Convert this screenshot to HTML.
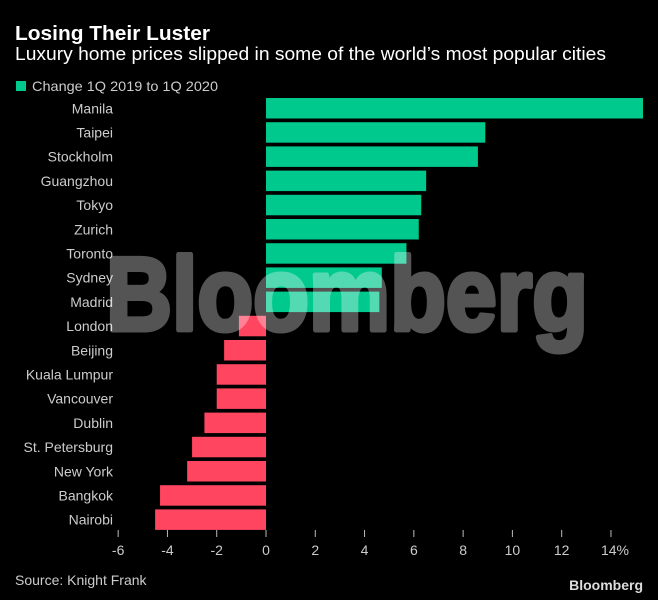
<!DOCTYPE html>
<html><head><meta charset="utf-8"><style>
body{margin:0;background:#000;}
svg{display:block;font-family:"Liberation Sans",sans-serif;}
</style></head><body>
<svg width="658" height="600" viewBox="0 0 658 600">
<rect width="658" height="600" fill="#000"/>
<text x="15" y="40" fill="#fff" font-size="20" font-weight="bold" textLength="195" lengthAdjust="spacingAndGlyphs">Losing Their Luster</text>
<text x="15" y="60" fill="#fff" font-size="18" textLength="591" lengthAdjust="spacingAndGlyphs">Luxury home prices slipped in some of the world’s most popular cities</text>
<rect x="16" y="81" width="10" height="10" fill="#00c98d"/>
<text x="32" y="91" fill="#ccc" font-size="14" textLength="186" lengthAdjust="spacingAndGlyphs">Change 1Q 2019 to 1Q 2020</text>
<g id="labels"></g>
<g id="bars"></g>
<g id="axis"></g>
<g opacity="0.33">
<text x="106" y="330" fill="#fff" stroke="#fff" stroke-width="5" stroke-linejoin="round" font-size="104" font-weight="bold" textLength="482" lengthAdjust="spacingAndGlyphs">Bloomberg</text>
</g>
<text x="15" y="585" fill="#ccc" font-size="14">Source: Knight Frank</text>
<text x="643" y="590" fill="#ddd" font-size="14" font-weight="bold" text-anchor="end">Bloomberg</text>
</svg>
<script>
const cities=["Manila","Taipei","Stockholm","Guangzhou","Tokyo","Zurich","Toronto","Sydney","Madrid","London","Beijing","Kuala Lumpur","Vancouver","Dublin","St. Petersburg","New York","Bangkok","Nairobi"];
const values=[15.3,8.9,8.6,6.5,6.3,6.2,5.7,4.7,4.6,-1.1,-1.7,-2.0,-2.0,-2.5,-3.0,-3.2,-4.3,-4.5];
const ticks=[-6,-4,-2,0,2,4,6,8,10,12,14];
const tickLabels=["-6","-4","-2","0","2","4","6","8","10","12","14%"];
const NS="http://www.w3.org/2000/svg";
function xs(v){return 266+v*24.64;}
function ys(i){return 98+i*24.2;}
const bh=20.5;
const gb=document.getElementById('bars'),gl=document.getElementById('labels'),ga=document.getElementById('axis');
cities.forEach((c,i)=>{
  const v=values[i];
  const r=document.createElementNS(NS,'rect');
  r.setAttribute('x',Math.min(xs(0),xs(v)));
  r.setAttribute('y',ys(i));
  r.setAttribute('width',Math.abs(xs(v)-xs(0)));
  r.setAttribute('height',bh);
  r.setAttribute('fill',v>=0?'#00c98d':'#ff4560');
  
  
  gb.appendChild(r);
  const t=document.createElementNS(NS,'text');
  t.setAttribute('x',113);t.setAttribute('y',ys(i)+bh/2+5);
  t.setAttribute('text-anchor','end');t.setAttribute('fill','#ccc');t.setAttribute('font-size','14');
  t.textContent=c;
  
  
  gl.appendChild(t);
});
ticks.forEach((v,i)=>{
  const l=document.createElementNS(NS,'line');
  l.setAttribute('x1',xs(v));l.setAttribute('x2',xs(v));l.setAttribute('y1',530);l.setAttribute('y2',537);
  l.setAttribute('stroke','#bbb');l.setAttribute('stroke-width','1');
  
  
  ga.appendChild(l);
  const t=document.createElementNS(NS,'text');
  t.setAttribute('x',xs(v)+(i===ticks.length-1?4:0));t.setAttribute('y',555);
  t.setAttribute('text-anchor','middle');t.setAttribute('fill','#ccc');t.setAttribute('font-size','14');
  t.textContent=tickLabels[i];
  
  
  ga.appendChild(t);
});
</script>
</body></html>
